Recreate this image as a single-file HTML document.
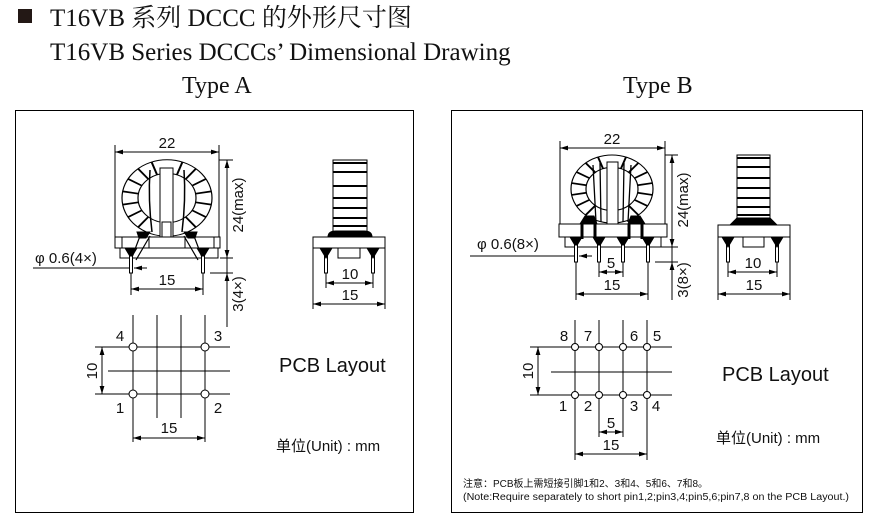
<!DOCTYPE html>
<html><head><meta charset="utf-8"><style>
html,body{margin:0;padding:0;background:#fff;}
svg{display:block;}
.s{font-family:"Liberation Serif","Noto Serif CJK SC",serif;fill:#111;}
.a{font-family:"Liberation Sans","Noto Sans CJK SC",sans-serif;fill:#111;}
</style></head><body>
<svg width="871" height="526" viewBox="0 0 871 526" xmlns="http://www.w3.org/2000/svg">
<defs>
<marker id="ar" viewBox="0 0 10 6" refX="10" refY="3" markerWidth="8" markerHeight="5" orient="auto-start-reverse"><path d="M0,0L10,3L0,6z" fill="#000"/></marker>
</defs>
<rect x="18" y="9" width="14" height="14" fill="#231815"/>
<text class="s" x="50" y="26" font-size="25">T16VB 系列 DCCC 的外形尺寸图</text>
<text class="s" x="50" y="60" font-size="25">T16VB Series DCCCs’ Dimensional Drawing</text>
<text class="s" x="182" y="93" font-size="24">Type A</text>
<text class="s" x="623" y="93" font-size="24">Type B</text>
<rect x="15.5" y="110.5" width="398" height="402" fill="none" stroke="#000" stroke-width="1"/>
<rect x="451.5" y="110.5" width="411" height="402" fill="none" stroke="#000" stroke-width="1"/>

<g stroke="#000" fill="none" stroke-width="1">
<line x1="115" y1="145" x2="115" y2="237"/><line x1="219" y1="145" x2="219" y2="237"/>
<line x1="115" y1="152" x2="219" y2="152" marker-start="url(#ar)" marker-end="url(#ar)"/>
<g transform="translate(167,198) scale(1,0.85)">
<circle r="45" stroke-width="1.2"/><circle r="29" stroke-width="1.2"/>
<g stroke-width="2">
<line x1="0" y1="-29" x2="0" y2="-45" transform="rotate(-20)"/><line x1="0" y1="-29" x2="0" y2="-45" transform="rotate(20)"/>
<line x1="0" y1="-29" x2="0" y2="-45" transform="rotate(-40)"/><line x1="0" y1="-29" x2="0" y2="-45" transform="rotate(40)"/>
<line x1="0" y1="-29" x2="0" y2="-45" transform="rotate(-60)"/><line x1="0" y1="-29" x2="0" y2="-45" transform="rotate(60)"/>
<line x1="0" y1="-29" x2="0" y2="-45" transform="rotate(-80)"/><line x1="0" y1="-29" x2="0" y2="-45" transform="rotate(80)"/>
<line x1="0" y1="-29" x2="0" y2="-45" transform="rotate(-100)"/><line x1="0" y1="-29" x2="0" y2="-45" transform="rotate(100)"/>
<line x1="0" y1="-29" x2="0" y2="-45" transform="rotate(-120)"/><line x1="0" y1="-29" x2="0" y2="-45" transform="rotate(120)"/>
<line x1="0" y1="-29" x2="0" y2="-45" transform="rotate(-140)"/><line x1="0" y1="-29" x2="0" y2="-45" transform="rotate(140)"/>
</g></g>
<path d="M150,170 Q148,200 152,232 M184,170 Q186,200 182,232" stroke-width="1.5"/>
<rect x="160" y="168" width="13" height="69" fill="#fff"/>
<rect x="162" y="222" width="9" height="15" fill="#fff"/>
<path d="M140,236 L131,260 M150,236 L136,260 M194,236 L203,260 M184,236 L198,260" stroke-width="1.2"/>
<path d="M137,232 L150,232 L146,238 L139,238Z M184,232 L197,232 L195,238 L188,238Z" fill="#000"/>
<rect x="115" y="237" width="105" height="11"/>
<line x1="122" y1="237" x2="122" y2="248"/><line x1="149" y1="237" x2="149" y2="248"/>
<line x1="185" y1="237" x2="185" y2="248"/><line x1="214" y1="237" x2="214" y2="248"/>
<rect x="120" y="248" width="98" height="10"/>
<path d="M125,248 L137,248 L131,258Z M197,248 L209,248 L203,258Z" fill="#000"/>
<rect x="129.5" y="256" width="3" height="17" fill="#fff"/><rect x="201.5" y="256" width="3" height="17" fill="#fff"/>
<line x1="131" y1="273" x2="131" y2="295"/><line x1="203" y1="273" x2="203" y2="295"/>
<line x1="131" y1="289" x2="203" y2="289" marker-start="url(#ar)" marker-end="url(#ar)"/>
<line x1="33" y1="268" x2="129" y2="268"/><line x1="134" y1="268" x2="147" y2="268"/>
<path d="M121,268 L129,268 M142,268 L134,268" marker-end="url(#ar)"/>
<line x1="219" y1="160" x2="233" y2="160"/><line x1="220" y1="258" x2="233" y2="258"/><line x1="210" y1="273" x2="233" y2="273"/>
<line x1="227" y1="160" x2="227" y2="258" marker-start="url(#ar)" marker-end="url(#ar)"/>
<line x1="227" y1="258" x2="227" y2="327"/>
<path d="M227,285 L227,273" marker-end="url(#ar)"/>

<rect x="333" y="160" width="34" height="72" fill="#fff"/>
<g stroke-width="2"><line x1="333" y1="163" x2="367" y2="163"/><line x1="333" y1="172" x2="367" y2="172"/><line x1="333" y1="186" x2="367" y2="186"/><line x1="333" y1="198" x2="367" y2="198"/><line x1="333" y1="208" x2="367" y2="208"/><line x1="333" y1="218" x2="367" y2="218"/><line x1="333" y1="226" x2="367" y2="226"/></g>
<path d="M328,237 Q328,231 336,231 L364,231 Q372,231 372,237Z" fill="#000"/>
<rect x="313" y="237" width="72" height="11"/>
<rect x="338" y="248" width="22" height="10"/>
<path d="M320,248 L332,248 L326,258Z M367,248 L379,248 L373,258Z" fill="#000"/>
<rect x="324.5" y="256" width="3" height="17"/><rect x="371.5" y="256" width="3" height="17"/>
<line x1="326" y1="273" x2="326" y2="288"/><line x1="373" y1="273" x2="373" y2="288"/>
<line x1="326" y1="283" x2="373" y2="283" marker-start="url(#ar)" marker-end="url(#ar)"/>
<line x1="313" y1="248" x2="313" y2="309"/><line x1="385" y1="248" x2="385" y2="309"/>
<line x1="313" y1="304" x2="385" y2="304" marker-start="url(#ar)" marker-end="url(#ar)"/>

<line x1="133" y1="315" x2="133" y2="442"/><line x1="157" y1="315" x2="157" y2="418"/>
<line x1="181" y1="315" x2="181" y2="418"/><line x1="205" y1="315" x2="205" y2="442"/>
<line x1="95" y1="347" x2="230" y2="347"/><line x1="108" y1="371" x2="230" y2="371"/><line x1="95" y1="394" x2="230" y2="394"/>
<line x1="102" y1="347" x2="102" y2="394" marker-start="url(#ar)" marker-end="url(#ar)"/>
<line x1="133" y1="438" x2="205" y2="438" marker-start="url(#ar)" marker-end="url(#ar)"/>
<g fill="#fff"><circle cx="133" cy="347" r="4"/><circle cx="205" cy="347" r="4"/><circle cx="133" cy="394" r="4"/><circle cx="205" cy="394" r="4"/></g>

<line x1="560" y1="141" x2="560" y2="224"/><line x1="665" y1="141" x2="665" y2="224"/>
<line x1="560" y1="148" x2="665" y2="148" marker-start="url(#ar)" marker-end="url(#ar)"/>
<g transform="translate(612,189) scale(1,0.83)">
<circle r="41" stroke-width="1.2"/><circle r="26" stroke-width="1.2"/>
<g stroke-width="2">
<line x1="0" y1="-26" x2="0" y2="-41" transform="rotate(-20)"/><line x1="0" y1="-26" x2="0" y2="-41" transform="rotate(20)"/>
<line x1="0" y1="-26" x2="0" y2="-41" transform="rotate(-40)"/><line x1="0" y1="-26" x2="0" y2="-41" transform="rotate(40)"/>
<line x1="0" y1="-26" x2="0" y2="-41" transform="rotate(-60)"/><line x1="0" y1="-26" x2="0" y2="-41" transform="rotate(60)"/>
<line x1="0" y1="-26" x2="0" y2="-41" transform="rotate(-80)"/><line x1="0" y1="-26" x2="0" y2="-41" transform="rotate(80)"/>
<line x1="0" y1="-26" x2="0" y2="-41" transform="rotate(-100)"/><line x1="0" y1="-26" x2="0" y2="-41" transform="rotate(100)"/>
<line x1="0" y1="-26" x2="0" y2="-41" transform="rotate(-120)"/><line x1="0" y1="-26" x2="0" y2="-41" transform="rotate(120)"/>
<line x1="0" y1="-26" x2="0" y2="-41" transform="rotate(-140)"/><line x1="0" y1="-26" x2="0" y2="-41" transform="rotate(140)"/>
</g></g>
<path d="M593,165 L596,222 M600,163 L601,222 M624,163 L623,222 M631,165 L628,222" stroke-width="1.3"/>
<rect x="607" y="162" width="11" height="62" fill="#fff"/>
<path d="M580,224 L585,216 L594,216 L597,224Z M628,224 L631,216 L640,216 L645,224Z" fill="#000"/>
<rect x="559" y="224" width="108" height="13"/>
<g stroke-width="3"><line x1="582" y1="224" x2="582" y2="239"/><line x1="595" y1="224" x2="595" y2="239"/><line x1="629" y1="224" x2="629" y2="239"/><line x1="642" y1="224" x2="642" y2="239"/></g>
<rect x="565" y="237" width="96" height="10"/>
<path d="M570,237 L582,237 L576,247Z M593,237 L605,237 L599,247Z M617,237 L629,237 L623,247Z M642,237 L654,237 L648,247Z" fill="#000"/>
<rect x="574.5" y="245" width="3" height="17" fill="#fff"/><rect x="597.5" y="245" width="3" height="17" fill="#fff"/>
<rect x="621.5" y="245" width="3" height="17" fill="#fff"/><rect x="646.5" y="245" width="3" height="17" fill="#fff"/>
<line x1="576" y1="262" x2="576" y2="300"/><line x1="648" y1="262" x2="648" y2="300"/>
<line x1="599" y1="262" x2="599" y2="277"/><line x1="623" y1="262" x2="623" y2="277"/>
<line x1="599" y1="272" x2="623" y2="272" marker-start="url(#ar)" marker-end="url(#ar)"/>
<line x1="576" y1="294" x2="648" y2="294" marker-start="url(#ar)" marker-end="url(#ar)"/>
<line x1="470" y1="256" x2="574" y2="256"/><line x1="579" y1="256" x2="592" y2="256"/>
<path d="M566,256 L574,256 M587,256 L579,256" marker-end="url(#ar)"/>
<line x1="665" y1="155" x2="678" y2="155"/><line x1="661" y1="247" x2="678" y2="247"/><line x1="655" y1="262" x2="678" y2="262"/>
<line x1="672" y1="155" x2="672" y2="247" marker-start="url(#ar)" marker-end="url(#ar)"/>
<line x1="672" y1="247" x2="672" y2="300"/>
<path d="M672,274 L672,262" marker-end="url(#ar)"/>

<rect x="737" y="155" width="33" height="65" fill="#fff"/>
<g stroke-width="2"><line x1="737" y1="158" x2="770" y2="158"/><line x1="737" y1="167" x2="770" y2="167"/><line x1="737" y1="178" x2="770" y2="178"/><line x1="737" y1="188" x2="770" y2="188"/><line x1="737" y1="198" x2="770" y2="198"/><line x1="737" y1="207" x2="770" y2="207"/><line x1="737" y1="215" x2="770" y2="215"/></g>
<path d="M730,225 L737,218 L770,218 L777,225Z" fill="#000"/>
<rect x="718" y="225" width="72" height="12"/>
<rect x="743" y="237" width="21" height="10"/>
<path d="M722,237 L734,237 L728,247Z M771,237 L783,237 L777,247Z" fill="#000"/>
<rect x="726.5" y="245" width="3" height="17"/><rect x="775.5" y="245" width="3" height="17"/>
<line x1="728" y1="262" x2="728" y2="277"/><line x1="777" y1="262" x2="777" y2="277"/>
<line x1="728" y1="272" x2="777" y2="272" marker-start="url(#ar)" marker-end="url(#ar)"/>
<line x1="718" y1="237" x2="718" y2="300"/><line x1="790" y1="237" x2="790" y2="300"/>
<line x1="718" y1="294" x2="790" y2="294" marker-start="url(#ar)" marker-end="url(#ar)"/>

<line x1="575" y1="320" x2="575" y2="460"/><line x1="599" y1="320" x2="599" y2="437"/>
<line x1="623" y1="320" x2="623" y2="437"/><line x1="647" y1="320" x2="647" y2="460"/>
<line x1="530" y1="347" x2="672" y2="347"/><line x1="551" y1="372" x2="672" y2="372"/><line x1="530" y1="395" x2="672" y2="395"/>
<line x1="538" y1="347" x2="538" y2="395" marker-start="url(#ar)" marker-end="url(#ar)"/>
<line x1="599" y1="432" x2="623" y2="432" marker-start="url(#ar)" marker-end="url(#ar)"/>
<line x1="575" y1="454" x2="647" y2="454" marker-start="url(#ar)" marker-end="url(#ar)"/>
<g fill="#fff"><circle cx="575" cy="347" r="3.5"/><circle cx="599" cy="347" r="3.5"/><circle cx="623" cy="347" r="3.5"/><circle cx="647" cy="347" r="3.5"/>
<circle cx="575" cy="395" r="3.5"/><circle cx="599" cy="395" r="3.5"/><circle cx="623" cy="395" r="3.5"/><circle cx="647" cy="395" r="3.5"/></g>
</g>

<g class="a" font-size="15">
<text x="167" y="148" text-anchor="middle">22</text>
<text x="167" y="285" text-anchor="middle">15</text>
<text x="35" y="263">φ 0.6(4×)</text>
<text transform="translate(243,205) rotate(-90)" text-anchor="middle">24(max)</text>
<text transform="translate(243,294) rotate(-90)" text-anchor="middle">3(4×)</text>
<text x="350" y="279" text-anchor="middle">10</text>
<text x="350" y="300" text-anchor="middle">15</text>
<text x="120" y="341" text-anchor="middle">4</text><text x="218" y="341" text-anchor="middle">3</text>
<text x="120" y="413" text-anchor="middle">1</text><text x="218" y="413" text-anchor="middle">2</text>
<text transform="translate(97,371) rotate(-90)" text-anchor="middle">10</text>
<text x="169" y="433" text-anchor="middle">15</text>

<text x="612" y="144" text-anchor="middle">22</text>
<text x="477" y="249">φ 0.6(8×)</text>
<text x="611" y="268" text-anchor="middle">5</text>
<text x="612" y="290" text-anchor="middle">15</text>
<text transform="translate(688,200) rotate(-90)" text-anchor="middle">24(max)</text>
<text transform="translate(688,280) rotate(-90)" text-anchor="middle">3(8×)</text>
<text x="753" y="268" text-anchor="middle">10</text>
<text x="754" y="290" text-anchor="middle">15</text>
<text x="564" y="341" text-anchor="middle">8</text><text x="588" y="341" text-anchor="middle">7</text>
<text x="634" y="341" text-anchor="middle">6</text><text x="657" y="341" text-anchor="middle">5</text>
<text x="563" y="411" text-anchor="middle">1</text><text x="588" y="411" text-anchor="middle">2</text>
<text x="634" y="411" text-anchor="middle">3</text><text x="656" y="411" text-anchor="middle">4</text>
<text transform="translate(533,371) rotate(-90)" text-anchor="middle">10</text>
<text x="611" y="428" text-anchor="middle">5</text>
<text x="611" y="450" text-anchor="middle">15</text>
</g>
<text class="a" x="279" y="372" font-size="20">PCB Layout</text>
<text class="a" x="722" y="381" font-size="20">PCB Layout</text>
<text class="a" x="276" y="451" font-size="15">单位(Unit) : mm</text>
<text class="a" x="716" y="443" font-size="15">单位(Unit) : mm</text>
<text class="a" x="463" y="487" font-size="10">注意：PCB板上需短接引脚1和2、3和4、5和6、7和8。</text>
<text class="a" x="463" y="500" font-size="10" textLength="386" lengthAdjust="spacingAndGlyphs">(Note:Require separately to short pin1,2;pin3,4;pin5,6;pin7,8 on the PCB Layout.)</text>
</svg>
</body></html>
